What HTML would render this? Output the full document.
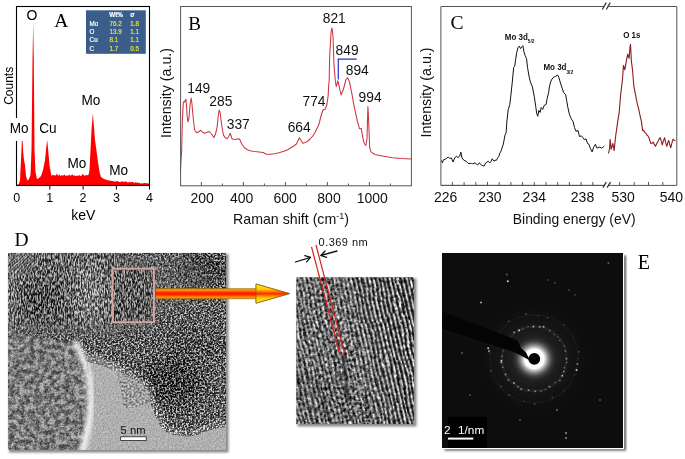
<!DOCTYPE html>
<html><head><meta charset="utf-8"><title>figure</title>
<style>
html,body{margin:0;padding:0;background:#fff;}
body{width:685px;height:459px;overflow:hidden;}
svg{display:block;will-change:transform;}
</style></head><body>
<svg width="685" height="459" viewBox="0 0 685 459" font-family="Liberation Sans, sans-serif">
<defs>
  <filter id="noiseD" x="0" y="0" width="100%" height="100%" color-interpolation-filters="sRGB">
    <feTurbulence type="fractalNoise" baseFrequency="0.55" numOctaves="2" seed="4" result="n"/>
    <feColorMatrix in="n" type="matrix" values="1 0 0 0 0  1 0 0 0 0  1 0 0 0 0  0 0 0 0 1" result="g"/>
    <feComponentTransfer in="g" result="c0"><feFuncR type="linear" slope="3" intercept="-1.05"/><feFuncG type="linear" slope="3" intercept="-1.05"/><feFuncB type="linear" slope="3" intercept="-1.05"/></feComponentTransfer>
    <feComponentTransfer in="c0" result="c"><feFuncR type="gamma" exponent="1.3"/><feFuncG type="gamma" exponent="1.3"/><feFuncB type="gamma" exponent="1.3"/></feComponentTransfer>
    <feComposite in="SourceGraphic" in2="c" operator="arithmetic" k1="0" k2="1" k3="0.7" k4="-0.22"/>
    <feGaussianBlur stdDeviation="0.45"/>
  </filter>
  <filter id="noiseS" x="0" y="0" width="100%" height="100%" color-interpolation-filters="sRGB">
    <feTurbulence type="fractalNoise" baseFrequency="0.6" numOctaves="2" seed="9" result="n"/>
    <feColorMatrix in="n" type="matrix" values="1 0 0 0 0  1 0 0 0 0  1 0 0 0 0  0 0 0 0 1" result="g"/>
    <feComposite in="SourceGraphic" in2="g" operator="arithmetic" k1="0" k2="1" k3="0.35" k4="-0.175" result="o"/>
    <feComposite in="o" in2="SourceAlpha" operator="in"/>
  </filter>
  <filter id="noiseD2" x="0" y="0" width="100%" height="100%" color-interpolation-filters="sRGB">
    <feTurbulence type="fractalNoise" baseFrequency="0.5" numOctaves="2" seed="11" result="n"/>
    <feColorMatrix in="n" type="matrix" values="1 0 0 0 0  1 0 0 0 0  1 0 0 0 0  0 0 0 0 1" result="g"/>
    <feComponentTransfer in="g" result="c"><feFuncR type="linear" slope="3" intercept="-1"/><feFuncG type="linear" slope="3" intercept="-1"/><feFuncB type="linear" slope="3" intercept="-1"/></feComponentTransfer>
    <feComposite in="SourceGraphic" in2="c" operator="arithmetic" k1="0" k2="1" k3="0.38" k4="-0.19" result="o"/>
    <feComposite in="o" in2="SourceAlpha" operator="in"/>
  </filter>
  <filter id="noiseB" x="0" y="0" width="100%" height="100%" color-interpolation-filters="sRGB">
    <feTurbulence type="fractalNoise" baseFrequency="0.2" numOctaves="2" seed="5" result="n"/>
    <feColorMatrix in="n" type="matrix" values="1 0 0 0 0  1 0 0 0 0  1 0 0 0 0  0 0 0 0 1" result="g"/>
    <feComponentTransfer in="g" result="c"><feFuncR type="linear" slope="3" intercept="-1"/><feFuncG type="linear" slope="3" intercept="-1"/><feFuncB type="linear" slope="3" intercept="-1"/></feComponentTransfer>
    <feTurbulence type="fractalNoise" baseFrequency="0.6" numOctaves="2" seed="8" result="n2"/>
    <feColorMatrix in="n2" type="matrix" values="1 0 0 0 0  1 0 0 0 0  1 0 0 0 0  0 0 0 0 1" result="g2"/>
    <feComponentTransfer in="g2" result="c2"><feFuncR type="linear" slope="3" intercept="-1"/><feFuncG type="linear" slope="3" intercept="-1"/><feFuncB type="linear" slope="3" intercept="-1"/></feComponentTransfer>
    <feComposite in="c" in2="c2" operator="arithmetic" k1="0" k2="0.6" k3="0.4" k4="0" result="m"/>
    <feComposite in="SourceGraphic" in2="m" operator="arithmetic" k1="0" k2="1" k3="0.55" k4="-0.27" result="o"/>
    <feGaussianBlur in="o" stdDeviation="0.6" result="ob"/>
    <feComposite in="ob" in2="SourceAlpha" operator="in"/>
  </filter>
  <pattern id="stripes" patternUnits="userSpaceOnUse" width="4.2" height="8">
    <rect width="4.2" height="8" fill="#222"/><rect x="0.6" width="2" height="8" fill="#e8e8e8"/>
  </pattern>
  <mask id="stripeMask" maskUnits="userSpaceOnUse" x="250" y="230" width="220" height="250">
    <rect x="250" y="230" width="220" height="250" fill="url(#smG)"/>
  </mask>
  <linearGradient id="smG" x1="0" y1="0" x2="1" y2="0">
    <stop offset="0.2" stop-color="#999"/><stop offset="0.35" stop-color="#888"/><stop offset="0.45" stop-color="#666"/><stop offset="0.55" stop-color="#ccc"/><stop offset="0.68" stop-color="#fff"/>
  </linearGradient>
  <radialGradient id="halo" cx="0.5" cy="0.5" r="0.5">
    <stop offset="0" stop-color="#555" stop-opacity="0.6"/><stop offset="0.5" stop-color="#2a2a2a" stop-opacity="0.4"/><stop offset="1" stop-color="#111" stop-opacity="0"/>
  </radialGradient>
  <filter id="wavy" x="0" y="0" width="100%" height="100%" color-interpolation-filters="sRGB">
    <feTurbulence type="fractalNoise" baseFrequency="0.06 0.03" numOctaves="2" seed="2" result="t"/>
    <feDisplacementMap in="SourceGraphic" in2="t" scale="5" xChannelSelector="R" yChannelSelector="G" result="d"/>
    <feTurbulence type="fractalNoise" baseFrequency="0.25 0.3" numOctaves="2" seed="21" result="n"/>
    <feColorMatrix in="n" type="matrix" values="1 0 0 0 0  1 0 0 0 0  1 0 0 0 0  0 0 0 0 1" result="g"/>
    <feComposite in="d" in2="g" operator="arithmetic" k1="1.6" k2="0.2" k3="0.25" k4="-0.22" result="o"/>
    <feGaussianBlur in="o" stdDeviation="0.45"/>
  </filter>
  <filter id="blur2" x="-20%" y="-20%" width="140%" height="140%"><feGaussianBlur stdDeviation="2"/></filter>
  <filter id="noiseI" x="0" y="0" width="100%" height="100%" color-interpolation-filters="sRGB">
    <feTurbulence type="fractalNoise" baseFrequency="0.32" numOctaves="2" seed="14" result="n"/>
    <feColorMatrix in="n" type="matrix" values="1 0 0 0 0  1 0 0 0 0  1 0 0 0 0  0 0 0 0 1" result="g"/>
    <feComponentTransfer in="g" result="c"><feFuncR type="linear" slope="3" intercept="-1.05"/><feFuncG type="linear" slope="3" intercept="-1.05"/><feFuncB type="linear" slope="3" intercept="-1.05"/></feComponentTransfer>
    <feComposite in="SourceGraphic" in2="c" operator="arithmetic" k1="0" k2="1" k3="0.9" k4="-0.4"/>
    <feGaussianBlur stdDeviation="0.45"/>
  </filter>
  <filter id="blurS" x="-5%" y="-5%" width="110%" height="110%"><feGaussianBlur stdDeviation="0.5"/></filter>
  <pattern id="fringe" patternUnits="userSpaceOnUse" width="2.7" height="10">
    <rect width="2.7" height="10" fill="#000"/><rect x="0.5" width="1.3" height="10" fill="#fff"/>
  </pattern>
  <filter id="wavy2" x="0" y="0" width="100%" height="100%">
    <feTurbulence type="fractalNoise" baseFrequency="0.05" numOctaves="2" seed="3" result="t"/>
    <feDisplacementMap in="SourceGraphic" in2="t" scale="4" xChannelSelector="R" yChannelSelector="G"/>
  </filter>
  <mask id="fringeMask" maskUnits="userSpaceOnUse" x="8" y="253" width="218" height="197">
    <g filter="url(#blur6)">
      <rect x="0" y="245" width="120" height="85" fill="#fff"/>
      <rect x="112" y="262" width="44" height="62" fill="#fff"/>
      <ellipse cx="180" cy="280" rx="30" ry="25" fill="#777"/>
    </g>
  </mask>
  <filter id="noiseF" x="0" y="0" width="100%" height="100%" color-interpolation-filters="sRGB">
    <feTurbulence type="fractalNoise" baseFrequency="0.7 0.27" numOctaves="2" seed="4" result="n"/>
    <feColorMatrix in="n" type="matrix" values="1 0 0 0 0  1 0 0 0 0  1 0 0 0 0  0 0 0 0 1" result="g"/>
    <feComponentTransfer in="g" result="c"><feFuncR type="linear" slope="3.2" intercept="-1.15"/><feFuncG type="linear" slope="3.2" intercept="-1.15"/><feFuncB type="linear" slope="3.2" intercept="-1.15"/></feComponentTransfer>
    <feComposite in="SourceGraphic" in2="c" operator="arithmetic" k1="0" k2="1" k3="0.64" k4="-0.29"/>
    <feGaussianBlur stdDeviation="0.35"/>
  </filter>
  <pattern id="diag" patternUnits="userSpaceOnUse" width="2.5" height="10" patternTransform="rotate(45)">
    <rect width="2.5" height="10" fill="#000"/><rect x="0.4" width="1.2" height="10" fill="#fff"/>
  </pattern>
  <mask id="diagMask" maskUnits="userSpaceOnUse" x="8" y="253" width="60" height="50">
    <ellipse cx="22" cy="264" rx="14" ry="11" fill="#fff" filter="url(#blur2)"/>
  </mask>
  <filter id="blur1"><feGaussianBlur stdDeviation="1.2"/></filter>
  <filter id="blur3"><feGaussianBlur stdDeviation="3"/></filter>
  <filter id="blur6" x="-30%" y="-30%" width="160%" height="160%"><feGaussianBlur stdDeviation="8"/></filter>
  <filter id="shadow" x="-10%" y="-10%" width="130%" height="130%"><feGaussianBlur stdDeviation="1.2"/></filter>
  <linearGradient id="shaft" gradientUnits="userSpaceOnUse" x1="0" y1="288.7" x2="0" y2="298.7">
    <stop offset="0" stop-color="#f0a000"/><stop offset="0.18" stop-color="#ff8a00"/><stop offset="0.36" stop-color="#ff3000"/><stop offset="0.5" stop-color="#ff1400"/><stop offset="0.64" stop-color="#ff3000"/><stop offset="0.82" stop-color="#ff8a00"/><stop offset="1" stop-color="#f0a000"/>
  </linearGradient>
  <linearGradient id="head" x1="0" y1="0" x2="0" y2="1">
    <stop offset="0" stop-color="#fff020"/><stop offset="0.28" stop-color="#ffc800"/><stop offset="0.5" stop-color="#ff2a00"/><stop offset="0.72" stop-color="#ffc800"/><stop offset="1" stop-color="#fff020"/>
  </linearGradient>
  <radialGradient id="glow" cx="0.5" cy="0.5" r="0.5">
    <stop offset="0" stop-color="#fff" stop-opacity="1"/>
    <stop offset="0.42" stop-color="#fff" stop-opacity="1"/>
    <stop offset="0.6" stop-color="#ccc" stop-opacity="0.6"/>
    <stop offset="0.8" stop-color="#666" stop-opacity="0.3"/>
    <stop offset="1" stop-color="#333" stop-opacity="0"/>
  </radialGradient>
  <clipPath id="clipD"><rect x="8" y="253" width="218" height="197"/></clipPath>
  <clipPath id="clipI"><rect x="296.5" y="277.5" width="117.5" height="146.5"/></clipPath>
  <clipPath id="clipE"><rect x="442" y="253" width="181" height="195"/></clipPath>
</defs>
<rect width="685" height="459" fill="#fff"/>

<!-- ========== Panel A ========== -->
<path d="M17.0,185.0 L19.0,184.0 L20.0,180.0 L21.0,160.0 L22.0,138.0 L22.6,140.0 L23.2,152.0 L24.0,160.0 L25.0,165.0 L26.0,176.0 L27.4,180.6 L29.0,179.0 L30.5,175.0 L31.5,150.0 L32.5,60.0 L33.2,22.0 L33.8,60.0 L34.5,150.0 L35.5,172.0 L37.0,179.0 L39.0,178.0 L41.0,176.0 L43.0,170.0 L45.0,160.0 L46.5,145.0 L47.2,140.0 L48.0,148.0 L49.5,165.0 L51.0,174.0 L52.0,176.5 L52.5,174.6 L53.3,175.3 L54.1,174.9 L54.9,175.4 L55.7,175.5 L56.5,174.2 L57.3,174.1 L58.1,175.9 L58.9,174.7 L59.7,174.6 L60.5,176.3 L61.3,175.1 L62.1,175.9 L62.9,175.1 L63.7,175.5 L64.5,174.4 L65.3,175.5 L66.1,176.0 L66.9,175.3 L67.7,175.7 L68.5,175.6 L69.3,174.2 L70.1,175.8 L70.9,175.4 L71.7,174.8 L72.5,174.2 L73.3,176.0 L74.1,175.1 L74.9,175.7 L75.7,176.0 L76.5,175.7 L77.3,176.1 L78.1,175.0 L78.9,175.9 L79.7,175.1 L80.5,176.2 L81.3,176.0 L82.1,174.3 L82.9,174.4 L83.7,174.6 L84.5,176.2 L85.3,175.1 L86.1,175.5 L86.9,174.8 L87.7,175.2 L88.5,174.9 L88.5,175.0 L89.5,170.0 L90.5,150.0 L91.5,130.0 L92.9,113.0 L93.8,125.0 L95.0,140.0 L96.8,153.0 L98.0,162.0 L99.5,172.0 L101.0,177.0 L104.0,179.0 L108.8,180.5 L109.5,180.4 L110.4,180.7 L111.3,180.8 L112.2,181.2 L113.1,181.0 L114.0,181.4 L114.9,181.4 L115.8,181.6 L116.7,181.3 L117.6,180.8 L118.5,181.7 L119.4,181.9 L120.3,181.9 L121.2,181.5 L122.1,181.8 L123.0,181.3 L123.9,182.1 L124.8,181.8 L125.7,181.6 L126.6,181.4 L127.5,182.4 L128.4,182.6 L129.3,181.6 L130.2,182.5 L131.1,182.1 L132.0,181.9 L132.9,182.1 L133.8,182.8 L134.7,183.0 L135.6,182.1 L136.5,182.8 L137.4,182.2 L138.3,183.1 L139.2,182.7 L140.1,183.4 L141.0,183.6 L141.9,183.1 L142.8,183.8 L143.7,183.0 L144.6,182.8 L145.5,183.5 L146.4,182.9 L147.3,183.2 L148.2,183.5 L149.1,183.8 L149.5,183.7 L149.5,185.5 L17.0,185.5Z" fill="#ff0000"/>
<rect x="16.5" y="6.5" width="133" height="179" fill="none" stroke="#000" stroke-width="1.1"/>
<g stroke="#000" stroke-width="1"><line x1="49.8" y1="185.5" x2="49.8" y2="189.5"/><line x1="83.1" y1="185.5" x2="83.1" y2="189.5"/><line x1="116.4" y1="185.5" x2="116.4" y2="189.5"/><line x1="149.5" y1="185.5" x2="149.5" y2="189.5"/></g>
<rect x="86" y="10.3" width="59.8" height="43.5" fill="#3a5d8c"/>
<g font-size="6.3" fill="#fff" stroke="#fff" stroke-width="0.18">
  <text x="109.2" y="17.3" font-weight="bold">Wt%</text>
  <text x="130.3" y="17.3" font-weight="bold">σ</text>
  <text x="89.6" y="25.6">Mo</text><text x="89.6" y="33.9">O</text><text x="89.6" y="42.2">Cu</text><text x="89.6" y="50.5">C</text>
</g>
<g font-size="6.3" fill="#e4e436" stroke="#e4e436" stroke-width="0.18">
  <text x="109.5" y="25.6">76.2</text><text x="130.2" y="25.6">1.8</text>
  <text x="109.5" y="33.9">13.9</text><text x="130.2" y="33.9">1.1</text>
  <text x="109.5" y="42.2">8.1</text><text x="130.2" y="42.2">1.1</text>
  <text x="109.5" y="50.5">1.7</text><text x="130.2" y="50.5">0.5</text>
</g>
<text x="54.3" y="26.8" font-family="Liberation Serif, serif" font-size="19.5">A</text>
<g font-size="13">
  <rect x="26" y="8" width="12" height="13" fill="#fff"/>
  <text x="32" y="19.6" font-size="14" text-anchor="middle">O</text>
  <rect x="9" y="118" width="20.5" height="23" fill="#fff"/>
  <g text-anchor="middle"><text x="19.2" y="133.5" font-size="13.6" transform="matrix(1,0,0,1.06,0,-8.01)">Mo</text><text x="48" y="133.5" font-size="13.6" transform="matrix(1,0,0,1.06,0,-8.01)">Cu</text><text x="90.9" y="105.2" font-size="13.6" transform="matrix(1,0,0,1.06,0,-6.31)">Mo</text><text x="77" y="167.8" font-size="13.6" transform="matrix(1,0,0,1.06,0,-10.07)">Mo</text><text x="118.7" y="175" font-size="13.6" transform="matrix(1,0,0,1.06,0,-10.50)">Mo</text></g>
  <g text-anchor="middle" font-size="12.5">
    <text x="16.8" y="202.3">0</text><text x="49.8" y="202.3">1</text><text x="83.1" y="202.3">2</text><text x="116.4" y="202.3">3</text><text x="149.5" y="202.3">4</text>
  </g>
  <text x="83.3" y="220.3" text-anchor="middle" font-size="14">keV</text>
  <text transform="translate(12.7,85.8) rotate(-90)" text-anchor="middle" font-size="12">Counts</text>
</g>

<!-- ========== Panel B ========== -->
<polyline points="180.4,171.0 181.0,160.0 181.6,151.9 182.4,120.0 183.3,102.8 184.0,101.5 184.7,102.0 185.3,100.0 185.9,99.2 186.5,105.0 187.1,116.0 188.0,121.9 189.0,118.0 190.0,105.0 191.2,98.0 192.0,104.0 193.0,116.0 194.0,125.0 194.8,130.3 196.0,132.0 197.2,132.7 199.0,131.5 200.8,130.3 202.5,132.0 204.3,133.2 206.5,132.5 209.1,131.5 211.5,134.0 213.9,137.5 215.5,134.0 217.0,127.9 218.2,116.0 219.2,110.0 220.2,113.0 221.1,120.7 222.3,129.0 223.5,135.1 225.0,137.5 227.1,138.7 228.8,136.5 230.2,133.2 231.0,135.5 231.9,138.7 233.5,139.3 235.5,139.4 237.5,138.9 239.1,138.7 240.3,140.5 241.5,143.5 243.5,146.5 245.0,148.3 247.5,149.8 249.9,150.7 253.0,151.3 255.2,151.6 259.0,152.0 263.1,152.5 266.3,154.2 270.0,154.2 274.8,153.8 279.0,152.7 284.0,151.2 288.0,149.5 291.8,147.3 294.5,145.5 296.4,144.0 298.0,140.5 299.4,137.7 301.0,140.5 302.9,143.3 305.0,142.5 307.5,141.4 310.0,139.0 312.7,136.1 315.0,132.5 316.1,130.0 318.0,126.5 319.4,122.5 321.0,116.0 322.7,110.5 324.0,109.5 325.4,108.9 327.0,104.0 328.1,96.3 328.7,85.4 329.2,80.0 329.6,57.9 331.1,31.6 332.0,28.0 333.0,36.3 334.0,65.1 335.4,81.9 336.3,86.6 337.8,80.7 339.2,86.6 341.1,95.0 343.5,89.0 345.9,79.5 347.6,77.8 349.5,81.9 351.9,93.8 354.0,105.7 357.4,121.4 359.5,128.7 361.3,128.4 362.7,137.1 364.1,143.2 365.8,145.5 367.0,138.8 367.5,120.0 367.9,106.6 368.4,115.0 368.8,124.9 369.7,147.6 371.0,151.9 374.9,154.5 383.6,156.3 392.3,157.7 401.0,158.5 411.2,158.9" fill="none" stroke="#cc3440" stroke-width="1.05" stroke-linejoin="round"/>
<rect x="180.6" y="6.5" width="230.8" height="179.3" fill="none" stroke="#555" stroke-width="1"/>
<g stroke="#555" stroke-width="1"><line x1="201.4" y1="185.8" x2="201.4" y2="182"/><line x1="243.4" y1="185.8" x2="243.4" y2="182"/><line x1="285.4" y1="185.8" x2="285.4" y2="182"/><line x1="327.4" y1="185.8" x2="327.4" y2="182"/><line x1="369.4" y1="185.8" x2="369.4" y2="182"/><line x1="222.4" y1="185.8" x2="222.4" y2="183.5"/><line x1="264.4" y1="185.8" x2="264.4" y2="183.5"/><line x1="306.4" y1="185.8" x2="306.4" y2="183.5"/><line x1="348.4" y1="185.8" x2="348.4" y2="183.5"/><line x1="390.4" y1="185.8" x2="390.4" y2="183.5"/></g>
<polyline points="338.3,79.5 338.3,59.1 356.7,59.1" fill="none" stroke="#2233cc" stroke-width="1.2"/>
<text x="188.2" y="30" font-family="Liberation Serif, serif" font-size="19">B</text>
<g font-size="13" fill="#111">
  <g text-anchor="middle"><text x="198.75" y="93.2" font-size="13.8" transform="matrix(1,0,0,1.06,0,-5.59)">149</text><text x="220.85" y="106.3" font-size="13.8" transform="matrix(1,0,0,1.06,0,-6.38)">285</text><text x="238.25" y="128.6" font-size="13.8" transform="matrix(1,0,0,1.06,0,-7.72)">337</text><text x="299.2" y="132.5" font-size="13.8" transform="matrix(1,0,0,1.06,0,-7.95)">664</text><text x="314" y="106.1" font-size="13.8" transform="matrix(1,0,0,1.06,0,-6.37)">774</text><text x="334.25" y="23.4" font-size="13.8" transform="matrix(1,0,0,1.06,0,-1.40)">821</text><text x="347.1" y="55.5" font-size="13.8" transform="matrix(1,0,0,1.06,0,-3.33)">849</text><text x="357.3" y="75.4" font-size="13.8" transform="matrix(1,0,0,1.06,0,-4.52)">894</text><text x="370.1" y="101.7" font-size="13.8" transform="matrix(1,0,0,1.06,0,-6.10)">994</text></g>
  <g text-anchor="middle">
<text x="202.2" y="202.6" font-size="14" transform="matrix(1,0,0,1.06,0,-12.16)">200</text><text x="241.6" y="202.6" font-size="14" transform="matrix(1,0,0,1.06,0,-12.16)">400</text><text x="285.2" y="202.6" font-size="14" transform="matrix(1,0,0,1.06,0,-12.16)">600</text><text x="329" y="202.6" font-size="14" transform="matrix(1,0,0,1.06,0,-12.16)">800</text><text x="372.2" y="202.6" font-size="14" transform="matrix(1,0,0,1.06,0,-12.16)">1000</text>
  </g>
  <text x="233" y="224.4" font-size="14.2">Raman shift (cm<tspan dy="-5" font-size="9">-1</tspan><tspan dy="5">)</tspan></text>
  <text transform="translate(171,93) rotate(-90)" text-anchor="middle" font-size="14.2">Intensity (a.u.)</text>
</g>

<!-- ========== Panel C ========== -->
<polyline points="441.6,160.4 442.4,162.9 443.6,159.6 445.7,159.1 446.9,158.0 448.2,157.1 449.8,158.4 451.4,158.0 453.1,162.0 454.7,158.0 456.3,156.3 458.0,157.5 459.6,156.3 460.9,152.2 462.0,158.0 463.7,160.1 464.9,160.7 466.1,161.2 467.8,162.9 469.0,163.7 470.2,163.3 471.4,163.5 472.7,163.7 473.9,163.3 475.1,162.9 476.4,164.1 477.6,165.0 479.2,162.9 480.4,163.7 481.6,165.3 482.9,165.7 484.1,166.1 485.7,162.9 486.9,162.2 488.2,161.2 489.8,162.9 491.0,161.3 492.2,158.8 493.9,161.2 495.1,160.2 496.3,160.4 497.6,158.1 498.8,156.3 500.0,152.9 501.2,150.6 503.3,144.1 505.0,135.1 506.1,132.7 506.9,121.2 508.2,109.8 509.8,104.5 511.0,94.1 512.2,82.9 513.7,67.3 514.7,66.3 515.7,59.4 516.7,52.5 518.0,47.6 519.2,46.1 520.6,48.6 522.0,46.7 522.9,45.7 523.9,51.6 525.1,55.5 526.5,58.4 527.5,67.3 529.0,76.1 530.4,82.0 532.4,86.9 534.3,96.7 535.7,106.5 536.9,114.3 537.8,116.3 538.8,110.4 540.2,112.4 541.2,107.5 542.7,109.4 544.1,105.5 546.1,104.5 547.1,98.6 548.6,92.7 549.4,86.9 550.6,82.0 552.0,79.0 553.9,77.1 555.9,76.1 557.8,75.1 558.8,77.1 560.4,82.9 562.4,88.8 563.7,92.7 565.7,94.7 566.7,100.6 567.6,106.1 569.2,113.7 570.7,117.6 571.9,119.8 573.0,121.4 574.5,127.5 576.0,131.3 578.0,130.5 579.5,136.6 581.1,135.9 582.9,137.4 584.4,139.7 586.0,138.9 587.5,143.5 589.0,144.3 590.2,148.1 592.1,151.9 593.6,147.3 595.4,144.3 596.9,148.1 598.9,147.3 600.0,147.1 601.2,148.1 602.4,148.0 603.5,146.6 604.3,145.8" fill="none" stroke="#111" stroke-width="1" stroke-linejoin="round"/>
<polyline points="608.4,153.4 609.6,148.9 610.1,139.2 611.2,149.1 612.9,143.5 614.1,150.6 615.8,135.0 616.8,127.8 617.8,120.8 619.2,112.3 620.6,95.2 621.6,87.0 622.6,78.2 623.4,65.5 624.9,69.7 626.3,61.2 627.7,54.1 629.1,58.4 630.0,47.0 630.5,44.2 631.4,61.2 632.5,69.7 633.9,86.7 635.6,95.2 636.6,100.5 637.6,105.2 638.6,108.7 639.6,113.7 641.3,120.8 642.7,130.7 643.7,130.4 644.7,132.1 645.8,133.3 646.9,135.0 648.0,135.9 649.0,137.8 650.0,141.3 651.0,143.5 652.1,143.2 653.2,142.1 654.4,144.4 655.5,146.3 656.5,144.3 657.5,142.1 658.4,141.0 659.4,138.5 660.3,137.8 661.3,141.2 662.3,144.9 663.5,140.7 664.6,137.8 665.7,142.9 666.8,146.3 667.8,142.6 668.8,140.6 669.8,144.8 670.8,147.7 672.0,142.6 673.1,139.2 674.2,140.3 675.4,140.6" fill="none" stroke="#8b1c1c" stroke-width="1.1" stroke-linejoin="round"/>
<path d="M440.9,6.5 H604 M608.5,6.5 H676.8 V185.4 H609 M604.5,185.4 H440.9 Z" fill="none" stroke="#555" stroke-width="1"/>
<path d="M440.9,6.5 V185.4" stroke="#555"/>
<g stroke="#555" stroke-width="1"><line x1="452.4" y1="185.4" x2="452.4" y2="182"/><line x1="464.1" y1="185.4" x2="464.1" y2="182"/><line x1="475.8" y1="185.4" x2="475.8" y2="182"/><line x1="487.5" y1="185.4" x2="487.5" y2="182"/><line x1="499.2" y1="185.4" x2="499.2" y2="182"/><line x1="510.9" y1="185.4" x2="510.9" y2="182"/><line x1="522.6" y1="185.4" x2="522.6" y2="182"/><line x1="534.3" y1="185.4" x2="534.3" y2="182"/><line x1="546.0" y1="185.4" x2="546.0" y2="182"/><line x1="557.7" y1="185.4" x2="557.7" y2="182"/><line x1="569.4" y1="185.4" x2="569.4" y2="182"/><line x1="581.1" y1="185.4" x2="581.1" y2="182"/><line x1="592.8" y1="185.4" x2="592.8" y2="182"/><line x1="619.6" y1="185.4" x2="619.6" y2="182"/><line x1="634.2" y1="185.4" x2="634.2" y2="182"/><line x1="648.5" y1="185.4" x2="648.5" y2="182"/><line x1="662.8" y1="185.4" x2="662.8" y2="182"/></g>
<g stroke="#333" stroke-width="1.25">
  <line x1="602.3" y1="9.5" x2="606.2" y2="2.6"/><line x1="606.3" y1="9.5" x2="610.2" y2="2.6"/>
  <line x1="603" y1="187.6" x2="606.3" y2="182.1"/><line x1="607.1" y1="187.6" x2="610.5" y2="182.1"/>
</g>
<text x="450.5" y="29.3" font-family="Liberation Serif, serif" font-size="19.5">C</text>
<g font-size="8" font-weight="bold" fill="#111">
  <text x="504.8" y="39.8" transform="matrix(1,0,0,1.1,0,-3.98)">Mo 3d<tspan font-size="4.8" dy="3.3">5/2</tspan></text>
  <text x="543.4" y="70.2" transform="matrix(1,0,0,1.1,0,-7.02)">Mo 3d<tspan font-size="4.8" dy="3.3">3/2</tspan></text>
  <text x="623.2" y="38.2" transform="matrix(1,0,0,1.1,0,-3.82)">O 1s</text>
</g>
<g font-size="13" fill="#111">
  <g text-anchor="middle">
<text x="445.6" y="202.4" font-size="14" transform="matrix(1,0,0,1.06,0,-12.14)">226</text><text x="489.9" y="202.4" font-size="14" transform="matrix(1,0,0,1.06,0,-12.14)">230</text><text x="534.3" y="202.4" font-size="14" transform="matrix(1,0,0,1.06,0,-12.14)">234</text><text x="582.5" y="202.4" font-size="14" transform="matrix(1,0,0,1.06,0,-12.14)">238</text><text x="623.2" y="202.4" font-size="14" transform="matrix(1,0,0,1.06,0,-12.14)">530</text><text x="671.4" y="202.4" font-size="14" transform="matrix(1,0,0,1.06,0,-12.14)">540</text>
  </g>
  <text x="512.8" y="224.4" font-size="13.9">Binding energy (eV)</text>
  <text transform="translate(431.2,92.5) rotate(-90)" text-anchor="middle" font-size="14.2">Intensity (a.u.)</text>
</g>

<!-- ========== Panel D ========== -->
<text x="14.6" y="246" font-family="Liberation Serif, serif" font-size="19.5">D</text>
<rect x="9" y="254" width="219.5" height="198.5" fill="#8a8a8a" filter="url(#shadow)"/>
<g clip-path="url(#clipD)">
  <g filter="url(#noiseD)">
    <rect x="8" y="253" width="218" height="197" fill="#565656"/>
    <g filter="url(#blur6)">
      <ellipse cx="75" cy="290" rx="22" ry="30" fill="#5c5c5c"/>
      <ellipse cx="38" cy="300" rx="18" ry="25" fill="#4e4e4e"/><ellipse cx="90" cy="290" rx="12" ry="35" fill="#686868"/>
      <ellipse cx="202" cy="270" rx="24" ry="16" fill="#363636"/>
      <ellipse cx="133" cy="296" rx="20" ry="26" fill="#484848"/>
      <ellipse cx="172" cy="382" rx="30" ry="24" fill="#363636"/>
      <ellipse cx="195" cy="345" rx="30" ry="15" fill="#4a4a4a"/>
      <ellipse cx="30" cy="335" rx="25" ry="10" fill="#5a5a5a"/>
    </g>
    <g filter="url(#blur2)" fill="none">
      <path d="M147,396 C153,412 158,424 164,430 C170,435 182,437 192,436 C202,434 210,428 228,426" stroke="#7a7a7a" stroke-width="12"/>
      <path d="M112,368 C124,370 140,380 152,394" stroke="#767676" stroke-width="10"/>
    </g>
  </g>
  <g mask="url(#fringeMask)">
    <g filter="url(#noiseF)">
      <rect x="8" y="253" width="218" height="197" fill="#6a6a6a"/>
      <g filter="url(#blur6)">
        <ellipse cx="90" cy="292" rx="14" ry="35" fill="#808080"/>
        <ellipse cx="34" cy="302" rx="20" ry="26" fill="#555"/>
        <ellipse cx="62" cy="300" rx="8" ry="30" fill="#5a5a5a"/>
        <ellipse cx="10" cy="300" rx="5" ry="40" fill="#8a8a8a"/>
      </g>
      <rect x="114" y="271" width="38" height="49" fill="#5e5e5e" filter="url(#blur2)"/>
    </g>
  </g>
  <g mask="url(#diagMask)" opacity="0.42"><rect x="8" y="253" width="50" height="40" fill="url(#diag)" filter="url(#wavy2)"/></g>
  <g filter="url(#noiseB)">
    <path d="M8,330 C30,336 58,340 76,343 C92,370 96,400 92,428 C90,440 87,446 85,450 L8,450 Z" fill="#7a7a7a"/>
  </g>
  <g filter="url(#noiseS)">
    <path d="M87,362 C97,363 108,367 116,372 C122,380 124,395 124,405 C132,409 142,405 150,401 C154,412 158,424 164,430 C170,435 182,437 192,436 C202,434 210,428 226,427 L226,450 L80,450 C84,440 89,425 90,405 C91,390 90,375 87,362Z" fill="#afafaf"/>
  </g>
  <g filter="url(#noiseD2)">
    <path d="M116,372 C126,372 140,380 150,392 L150,401 C142,405 132,409 124,408 C122,398 121,384 116,372Z" fill="#9c9c9c"/>
  </g>
  <path d="M75,342 C84,356 89,372 90,390 C91,405 89,425 85,440 C84,446 82,450 81,453" fill="none" stroke="#fbfbfb" stroke-width="7" opacity="0.85" filter="url(#blur2)"/>
  <path d="M89,356 C100,360 112,366 122,376" fill="none" stroke="#d0d0d0" stroke-width="6" opacity="0.5" filter="url(#blur2)"/>
  <rect x="112.6" y="268.6" width="41.3" height="53.6" fill="none" stroke="#d6a6a6" stroke-width="1.9"/>
  <text x="120.6" y="434" font-size="11.2" fill="#111">5 nm</text>
  <rect x="120.7" y="436.8" width="25.5" height="3.6" fill="#fff" stroke="#222" stroke-width="0.8"/>
</g>
<!-- arrow -->
<path d="M155.8,288.7 H256 V284 L289.5,293.6 L256,303.2 V298.7 H155.8 Z" fill="url(#shaft)" stroke="#9a6a10" stroke-width="0.7"/>
<path d="M256,284 L289.5,293.6 L256,303.2 Z" fill="url(#head)" stroke="#7a5a10" stroke-width="0.7"/>

<!-- inset -->
<rect x="297.5" y="278.5" width="119" height="148" fill="#8a8a8a" filter="url(#shadow)"/>
<g clip-path="url(#clipI)">
  <g filter="url(#noiseI)">
    <rect x="296.5" y="277.5" width="117.5" height="146.5" fill="#767676"/>
    <g filter="url(#blur6)">
      <ellipse cx="318" cy="395" rx="22" ry="22" fill="#5a5a5a"/>
      <ellipse cx="360" cy="417" rx="40" ry="9" fill="#5e5e5e"/>
      <ellipse cx="350" cy="330" rx="14" ry="28" fill="#808080"/>
      <ellipse cx="315" cy="330" rx="12" ry="25" fill="#7a7a7a"/>
    </g>
  </g>
  <g transform="rotate(-13 355 350)">
    <g mask="url(#stripeMask)"><rect x="250" y="230" width="220" height="250" fill="url(#stripes)" filter="url(#wavy)"/></g>
  </g>
  <g filter="url(#blur1)" fill="none">
    <path d="M343,354 C345,370 346,385 348,402" stroke="#111" stroke-width="2.5" opacity="0.8"/>
  </g>
</g>
<g stroke="#d42020" stroke-width="1.2" fill="none">
  <line x1="311.5" y1="246.8" x2="340" y2="355"/>
  <line x1="316" y1="245" x2="344.5" y2="353"/>
</g>
<g stroke="#111" stroke-width="1.3" fill="none" stroke-linecap="round" stroke-linejoin="round">
  <line x1="295.5" y1="262" x2="310.5" y2="257.3"/><polyline points="304.8,255.6 310.5,257.3 306.6,261.9"/>
  <line x1="337" y1="251" x2="321" y2="255.5"/><polyline points="325,251.0 321,255.5 326.6,257.3"/>
</g>
<text x="318.6" y="245.8" font-size="11" letter-spacing="0.45" fill="#111">0.369 nm</text>

<!-- ========== Panel E ========== -->
<rect x="444.5" y="255.5" width="181.5" height="195" fill="#555" filter="url(#shadow)"/>
<rect x="442" y="253" width="182.2" height="196.2" fill="#fff"/>
<g clip-path="url(#clipE)">
  <rect x="442" y="253" width="181" height="195" fill="#0d0d0d"/>
  <circle cx="534" cy="358.5" r="60" fill="url(#halo)"/>
  <g fill="none" stroke="#2a2a2a" filter="url(#blurS)"><circle cx="534.2" cy="358.8" r="32.3" stroke-width="2.5" stroke="#242424"/><circle cx="534.2" cy="358.8" r="44" stroke-width="2" stroke="#171717"/></g>
  <g filter="url(#blurS)"><circle cx="566.3" cy="358.8" r="0.96" fill="rgb(105,105,105)"/><circle cx="566.6" cy="362.5" r="0.72" fill="rgb(126,126,126)"/><circle cx="564.3" cy="367.8" r="0.73" fill="rgb(133,133,133)"/><circle cx="563.9" cy="371.6" r="0.75" fill="rgb(172,172,172)"/><circle cx="562.3" cy="375.8" r="0.93" fill="rgb(184,184,184)"/><circle cx="559.8" cy="380.6" r="1.04" fill="rgb(94,94,94)"/><circle cx="555.1" cy="382.6" r="0.82" fill="rgb(101,101,101)"/><circle cx="549.5" cy="386.6" r="0.96" fill="rgb(148,148,148)"/><circle cx="545.3" cy="389.5" r="0.72" fill="rgb(96,96,96)"/><circle cx="541.2" cy="391.0" r="0.83" fill="rgb(132,132,132)"/><circle cx="535.1" cy="391.2" r="1.02" fill="rgb(119,119,119)"/><circle cx="528.6" cy="390.2" r="0.91" fill="rgb(147,147,147)"/><circle cx="521.2" cy="389.2" r="1.09" fill="rgb(118,118,118)"/><circle cx="518.0" cy="386.8" r="0.76" fill="rgb(165,165,165)"/><circle cx="514.0" cy="382.9" r="1.01" fill="rgb(156,156,156)"/><circle cx="508.4" cy="380.0" r="0.98" fill="rgb(121,121,121)"/><circle cx="505.5" cy="374.5" r="1.04" fill="rgb(135,135,135)"/><circle cx="502.9" cy="367.3" r="0.72" fill="rgb(156,156,156)"/><circle cx="501.4" cy="360.8" r="1.03" fill="rgb(189,189,189)"/><circle cx="502.1" cy="356.2" r="0.71" fill="rgb(156,156,156)"/><circle cx="503.5" cy="350.9" r="0.72" fill="rgb(101,101,101)"/><circle cx="505.9" cy="344.7" r="0.86" fill="rgb(114,114,114)"/><circle cx="509.9" cy="338.8" r="0.92" fill="rgb(134,134,134)"/><circle cx="514.0" cy="332.4" r="0.81" fill="rgb(176,176,176)"/><circle cx="519.1" cy="330.4" r="1.08" fill="rgb(178,178,178)"/><circle cx="522.9" cy="329.2" r="0.79" fill="rgb(113,113,113)"/><circle cx="528.0" cy="326.7" r="0.70" fill="rgb(116,116,116)"/><circle cx="533.3" cy="326.6" r="1.08" fill="rgb(146,146,146)"/><circle cx="539.8" cy="326.7" r="0.97" fill="rgb(151,151,151)"/><circle cx="543.6" cy="326.7" r="1.05" fill="rgb(167,167,167)"/><circle cx="549.7" cy="330.5" r="0.74" fill="rgb(129,129,129)"/><circle cx="554.3" cy="334.6" r="0.78" fill="rgb(96,96,96)"/><circle cx="557.7" cy="336.9" r="0.70" fill="rgb(95,95,95)"/><circle cx="559.8" cy="340.4" r="0.71" fill="rgb(126,126,126)"/><circle cx="564.4" cy="346.1" r="0.80" fill="rgb(104,104,104)"/><circle cx="565.4" cy="351.0" r="1.04" fill="rgb(102,102,102)"/><circle cx="566.6" cy="358.8" r="0.73" fill="rgb(138,138,138)"/><circle cx="577.7" cy="358.8" r="0.8" fill="rgb(65,65,65)"/><circle cx="573.9" cy="375.2" r="0.8" fill="rgb(51,51,51)"/><circle cx="564.4" cy="390.9" r="0.8" fill="rgb(58,58,58)"/><circle cx="552.3" cy="397.3" r="0.8" fill="rgb(81,81,81)"/><circle cx="534.6" cy="403.9" r="0.8" fill="rgb(91,91,91)"/><circle cx="524.1" cy="401.2" r="0.8" fill="rgb(60,60,60)"/><circle cx="508.9" cy="394.9" r="0.8" fill="rgb(96,96,96)"/><circle cx="501.1" cy="386.6" r="0.8" fill="rgb(98,98,98)"/><circle cx="490.7" cy="370.7" r="0.8" fill="rgb(98,98,98)"/><circle cx="489.8" cy="353.3" r="0.8" fill="rgb(63,63,63)"/><circle cx="494.6" cy="340.5" r="0.8" fill="rgb(51,51,51)"/><circle cx="498.8" cy="333.8" r="0.8" fill="rgb(65,65,65)"/><circle cx="508.6" cy="321.4" r="0.8" fill="rgb(76,76,76)"/><circle cx="526.0" cy="314.1" r="0.8" fill="rgb(107,107,107)"/><circle cx="538.0" cy="315.8" r="0.8" fill="rgb(63,63,63)"/><circle cx="547.6" cy="317.8" r="0.8" fill="rgb(87,87,87)"/><circle cx="564.1" cy="325.1" r="0.8" fill="rgb(78,78,78)"/><circle cx="573.6" cy="337.3" r="0.8" fill="rgb(55,55,55)"/><circle cx="578.9" cy="351.9" r="0.8" fill="rgb(96,96,96)"/><circle cx="481" cy="302.5" r="1" fill="rgb(170,170,170)"/><circle cx="488.2" cy="348.2" r="1" fill="rgb(190,190,190)"/><circle cx="489" cy="351" r="1" fill="rgb(150,150,150)"/><circle cx="501.3" cy="362.2" r="1" fill="rgb(160,160,160)"/><circle cx="576.5" cy="370" r="1" fill="rgb(200,200,200)"/><circle cx="577.3" cy="364" r="1" fill="rgb(120,120,120)"/><circle cx="557" cy="410" r="1" fill="rgb(110,110,110)"/><circle cx="566" cy="433" r="1" fill="rgb(150,150,150)"/><circle cx="566" cy="438" r="1" fill="rgb(140,140,140)"/><circle cx="608.4" cy="263" r="1" fill="rgb(90,90,90)"/><circle cx="462" cy="353" r="1" fill="rgb(90,90,90)"/><circle cx="470" cy="395" r="1" fill="rgb(70,70,70)"/><circle cx="520" cy="420" r="1" fill="rgb(80,80,80)"/><circle cx="600" cy="400" r="1" fill="rgb(80,80,80)"/><circle cx="507.8" cy="281.3" r="1" fill="rgb(210,210,210)"/><circle cx="506.8" cy="274.5" r="1" fill="rgb(90,90,90)"/><circle cx="548" cy="280" r="1" fill="rgb(60,60,60)"/><circle cx="555" cy="283" r="1" fill="rgb(60,60,60)"/><circle cx="569" cy="290" r="1" fill="rgb(60,60,60)"/><circle cx="575" cy="295" r="1" fill="rgb(55,55,55)"/></g>
  <circle cx="534.3" cy="358.9" r="23" fill="url(#glow)"/>
  <path d="M442,311.4 L514.5,339.3 Q519.8,341.5 520.5,347.5 L526,352.5 L530,360.5 L524.5,357.5 L514.5,352.2 L442,328.2 Z" fill="#040404"/>
  <circle cx="534.3" cy="358.9" r="5.9" fill="#020202"/>
  <rect x="448" y="416.7" width="39" height="31.3" fill="#000"/>
  <text x="443.9" y="434" font-size="11.8" fill="#fff">2</text>
  <text x="458" y="434" font-size="11.8" fill="#fff">1/nm</text>
  <rect x="448" y="437.6" width="25.3" height="2" fill="#fff"/>
</g>
<text x="637.7" y="269" font-family="Liberation Serif, serif" font-size="20">E</text>
</svg>
</body></html>
